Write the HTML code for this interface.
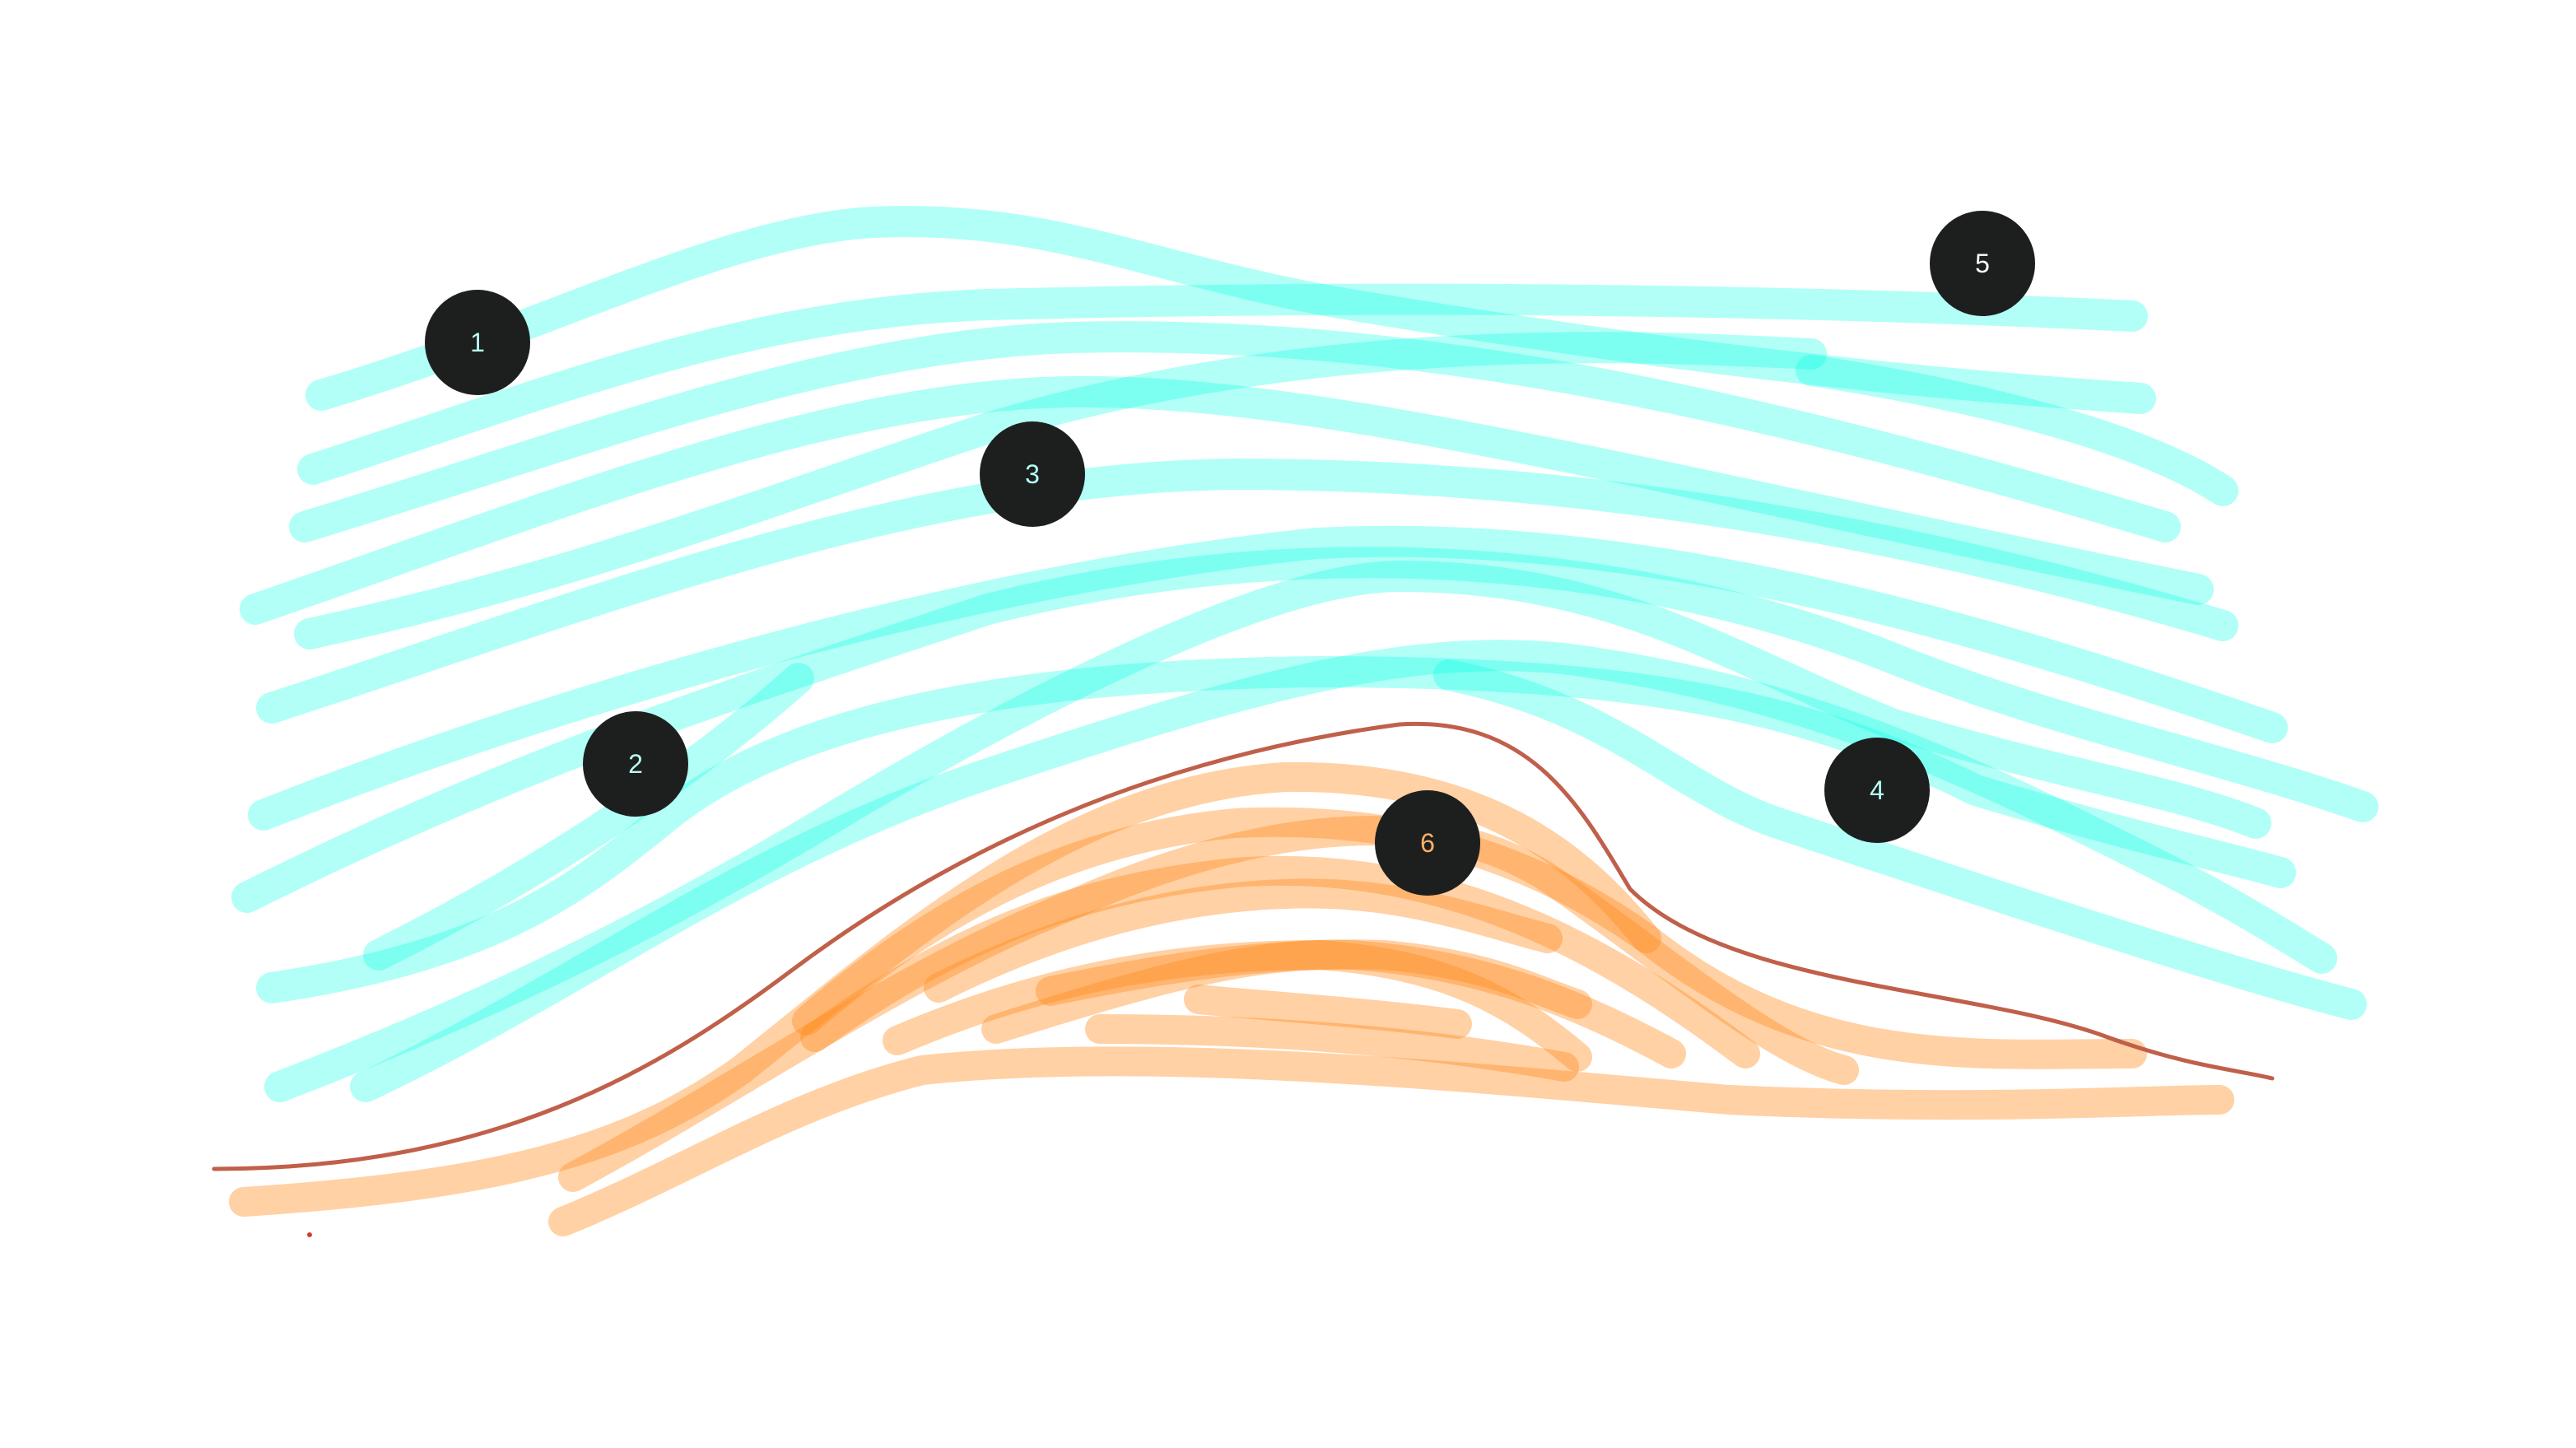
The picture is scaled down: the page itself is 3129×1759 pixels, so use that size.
<!DOCTYPE html>
<html><head><meta charset="utf-8"><style>
html,body{margin:0;padding:0;background:#fff;}
svg{display:block;}
</style></head><body>
<svg id="art" width="3129" height="1759" viewBox="0 0 1564.5 879.5" xmlns="http://www.w3.org/2000/svg">
<g id="cyan"></g>
<g id="orange"></g>
<g id="red"></g>
<g id="markers"></g>
</svg>
<script>
const cyanStrokes = [
 "M195,240 C330,200 440,140 530,135 C640,130 700,165 820,185 C1000,215 1150,232 1300,242",
 "M190,285 C330,240 450,190 600,185 C800,180 1050,180 1295,192",
 "M185,320 C350,270 500,210 650,205 C850,200 1050,240 1315,320",
 "M155,370 C330,310 500,240 650,238 C800,236 1000,290 1335,358",
 "M188,385 C350,350 450,310 600,260 C800,200 1000,210 1100,215",
 "M1100,225 C1200,240 1300,265 1350,298",
 "M165,430 C350,370 550,290 750,288 C950,288 1150,320 1350,380",
 "M160,495 C350,420 600,350 800,330 C1000,320 1200,380 1380,442",
 "M150,545 C320,460 450,420 600,370 C800,320 1000,340 1150,400 C1250,440 1350,460 1435,490",
 "M165,600 C300,580 350,540 400,500 C470,440 600,410 800,408 C1000,408 1100,430 1200,480 C1300,510 1350,520 1385,530",
 "M230,580 C330,530 420,470 485,412",
 "M170,660 C300,610 400,560 500,500 C650,410 780,350 850,350 C980,350 1050,400 1150,440 C1250,470 1320,480 1370,500",
 "M222,660 C350,600 450,520 600,470 C750,420 850,390 950,400 C1100,420 1200,470 1300,520 C1360,550 1390,570 1410,582",
 "M880,410 C980,430 1020,480 1080,500 C1200,540 1350,590 1428,610"
];
const orangeStrokes = [
 "M148,730 C300,720 380,700 450,650 C550,570 650,480 780,472 C900,470 960,520 1000,570 C1100,650 1200,640 1295,640",
 "M342,742 C420,710 480,670 560,650 C700,635 900,655 1050,668 C1200,675 1300,668 1348,668",
 "M348,715 C450,660 550,590 650,550 C750,505 870,480 950,540 C1020,590 1080,640 1120,650",
 "M490,620 C560,560 640,510 750,500 C850,495 930,520 1000,570",
 "M495,630 C580,570 650,540 750,530 C880,520 980,580 1060,640",
 "M570,600 C650,560 720,545 780,543 C850,540 900,560 940,570",
 "M545,632 C620,600 700,580 800,580 C880,585 920,610 958,642",
 "M605,625 C700,595 760,578 820,580 C900,585 960,610 1015,640",
 "M638,602 C720,585 780,578 840,580 C900,585 930,600 958,610",
 "M668,625 C750,625 850,630 950,648",
 "M728,607 C780,612 830,615 885,622"
];
const redPath = "M130,710 C300,710 400,650 480,590 C580,515 700,460 850,440 C930,435 960,490 990,540 C1050,600 1200,600 1280,630 C1330,648 1360,650 1380,655";
const markerLabels = ["1","2","3","4","5","6"];
const markerX = [290,386,627,1140,1204,867];
const markerY = [208,464,288,480,160,512];
const markerTextColor = ["#b8fff5","#b8fff5","#b8fff5","#b8fff5","#ffffff","#ffb066"];
const NS="http://www.w3.org/2000/svg";
function addPath(parent,d,stroke,w,alpha){
 const p=document.createElementNS(NS,"path");
 p.setAttribute("d",d);p.setAttribute("fill","none");p.setAttribute("stroke",stroke);
 p.setAttribute("stroke-width",w);p.setAttribute("stroke-linecap","round");p.setAttribute("stroke-opacity",alpha);
 parent.appendChild(p);return p;
}
const cg=document.getElementById("cyan");
cyanStrokes.forEach((d,i)=>{
 const p=addPath(cg,d,"rgb(0,255,230)",19,0.3);
 
 
});
const og=document.getElementById("orange");
orangeStrokes.forEach((d,i)=>{
 const p=addPath(og,d,"rgb(255,140,30)",18,0.4);
 
 
});
const rg=document.getElementById("red");
const rp=addPath(rg,redPath,"#c0604a",2.5,1);


const dot=document.createElementNS(NS,"circle");
dot.setAttribute("cx",188);dot.setAttribute("cy",750);dot.setAttribute("r",1.5);dot.setAttribute("fill","#d04030");


rg.appendChild(dot);
const mg=document.getElementById("markers");
markerLabels.forEach((t,i)=>{
 const g=document.createElementNS(NS,"g");
 
 
 const c=document.createElementNS(NS,"circle");
 c.setAttribute("cx",markerX[i]);c.setAttribute("cy",markerY[i]);c.setAttribute("r",32);c.setAttribute("fill","#1d1f1f");
 const tx=document.createElementNS(NS,"text");
 tx.setAttribute("x",markerX[i]);tx.setAttribute("y",markerY[i]+5.5);tx.setAttribute("text-anchor","middle");
 tx.setAttribute("font-family","Liberation Sans, sans-serif");tx.setAttribute("font-size","16");tx.setAttribute("fill",markerTextColor[i]);
 tx.textContent=t;
 g.appendChild(c);g.appendChild(tx);mg.appendChild(g);
});
</script>
</body></html>
